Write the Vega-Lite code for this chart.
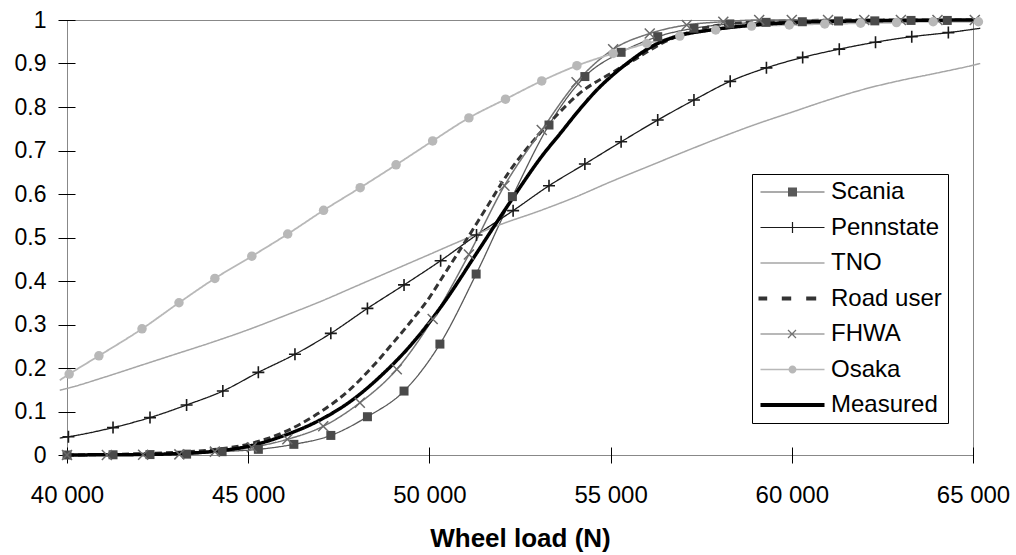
{
  "$schema": "https://vega.github.io/schema/vega-lite/v6.json",
  "width": 906,
  "height": 435,
  "autosize": {"type": "none"},
  "padding": {"left": 67, "top": 20, "right": 43, "bottom": 100},
  "background": "#ffffff",
  "config": {"view": {"stroke": "#888888", "strokeWidth": 1}, "font": "Liberation Sans"},
  "data": {"values": [
    {"s":"Scania","x":40000,"y":0},{"s":"Scania","x":41270,"y":0.0005},{"s":"Scania","x":42290,"y":0.001},{"s":"Scania","x":43300,"y":0.002},{"s":"Scania","x":44280,"y":0.0077},{"s":"Scania","x":45280,"y":0.013},{"s":"Scania","x":46260,"y":0.0245},{"s":"Scania","x":47280,"y":0.045},{"s":"Scania","x":48290,"y":0.088},{"s":"Scania","x":49300,"y":0.147},{"s":"Scania","x":50290,"y":0.255},{"s":"Scania","x":51290,"y":0.416},{"s":"Scania","x":52290,"y":0.594},{"s":"Scania","x":53300,"y":0.7586},{"s":"Scania","x":54290,"y":0.87},{"s":"Scania","x":55290,"y":0.9257},{"s":"Scania","x":56300,"y":0.9617},{"s":"Scania","x":57300,"y":0.981},{"s":"Scania","x":58290,"y":0.991},{"s":"Scania","x":59290,"y":0.9946},{"s":"Scania","x":60290,"y":0.996},{"s":"Scania","x":61290,"y":0.9977},{"s":"Scania","x":62290,"y":0.998},{"s":"Scania","x":63290,"y":0.999},{"s":"Scania","x":64290,"y":0.999},{"s":"Scania","x":65200,"y":0.9995},
    {"s":"Pennstate","x":39800,"y":0.039},{"s":"Pennstate","x":40040,"y":0.042},{"s":"Pennstate","x":41270,"y":0.063},{"s":"Pennstate","x":42290,"y":0.086},{"s":"Pennstate","x":43300,"y":0.115},{"s":"Pennstate","x":44300,"y":0.147},{"s":"Pennstate","x":45280,"y":0.19},{"s":"Pennstate","x":46290,"y":0.2315},{"s":"Pennstate","x":47280,"y":0.2797},{"s":"Pennstate","x":48290,"y":0.337},{"s":"Pennstate","x":49300,"y":0.391},{"s":"Pennstate","x":50310,"y":0.4467},{"s":"Pennstate","x":51300,"y":0.5057},{"s":"Pennstate","x":52310,"y":0.5617},{"s":"Pennstate","x":53300,"y":0.619},{"s":"Pennstate","x":54290,"y":0.669},{"s":"Pennstate","x":55290,"y":0.72},{"s":"Pennstate","x":56300,"y":0.77},{"s":"Pennstate","x":57300,"y":0.816},{"s":"Pennstate","x":58300,"y":0.859},{"s":"Pennstate","x":59300,"y":0.89},{"s":"Pennstate","x":60300,"y":0.914},{"s":"Pennstate","x":61310,"y":0.933},{"s":"Pennstate","x":62310,"y":0.949},{"s":"Pennstate","x":63310,"y":0.9617},{"s":"Pennstate","x":64320,"y":0.971},{"s":"Pennstate","x":65200,"y":0.981},
    {"s":"TNO","x":39800,"y":0.149},{"s":"TNO","x":40000,"y":0.153},{"s":"TNO","x":41000,"y":0.178},{"s":"TNO","x":42000,"y":0.205},{"s":"TNO","x":43000,"y":0.232},{"s":"TNO","x":44000,"y":0.259},{"s":"TNO","x":45000,"y":0.288},{"s":"TNO","x":46000,"y":0.32},{"s":"TNO","x":47000,"y":0.353},{"s":"TNO","x":48000,"y":0.389},{"s":"TNO","x":49000,"y":0.425},{"s":"TNO","x":50000,"y":0.461},{"s":"TNO","x":51000,"y":0.497},{"s":"TNO","x":52000,"y":0.531},{"s":"TNO","x":53000,"y":0.56},{"s":"TNO","x":54000,"y":0.592},{"s":"TNO","x":55000,"y":0.628},{"s":"TNO","x":56000,"y":0.662},{"s":"TNO","x":57000,"y":0.696},{"s":"TNO","x":58000,"y":0.729},{"s":"TNO","x":59000,"y":0.76},{"s":"TNO","x":60000,"y":0.788},{"s":"TNO","x":61000,"y":0.816},{"s":"TNO","x":62000,"y":0.841},{"s":"TNO","x":63000,"y":0.861},{"s":"TNO","x":64000,"y":0.878},{"s":"TNO","x":65000,"y":0.896},{"s":"TNO","x":65200,"y":0.9},
    {"s":"Road user","x":40000,"y":0},{"s":"Road user","x":41000,"y":0.001},{"s":"Road user","x":42000,"y":0.003},{"s":"Road user","x":43000,"y":0.006},{"s":"Road user","x":44000,"y":0.012},{"s":"Road user","x":45000,"y":0.025},{"s":"Road user","x":46000,"y":0.053},{"s":"Road user","x":46900,"y":0.094},{"s":"Road user","x":47800,"y":0.15},{"s":"Road user","x":48450,"y":0.205},{"s":"Road user","x":49000,"y":0.258},{"s":"Road user","x":49500,"y":0.308},{"s":"Road user","x":50000,"y":0.362},{"s":"Road user","x":50400,"y":0.414},{"s":"Road user","x":51000,"y":0.492},{"s":"Road user","x":51600,"y":0.572},{"s":"Road user","x":52200,"y":0.651},{"s":"Road user","x":52950,"y":0.73},{"s":"Road user","x":53500,"y":0.78},{"s":"Road user","x":54150,"y":0.832},{"s":"Road user","x":55000,"y":0.877},{"s":"Road user","x":55600,"y":0.906},{"s":"Road user","x":56500,"y":0.95},{"s":"Road user","x":57500,"y":0.98},{"s":"Road user","x":58500,"y":0.993},{"s":"Road user","x":60000,"y":0.998},{"s":"Road user","x":62000,"y":1},{"s":"Road user","x":65200,"y":1},
    {"s":"FHWA","x":40000,"y":0},{"s":"FHWA","x":41100,"y":0},{"s":"FHWA","x":42100,"y":0.0005},{"s":"FHWA","x":43100,"y":0.0015},{"s":"FHWA","x":44080,"y":0.0077},{"s":"FHWA","x":45100,"y":0.0177},{"s":"FHWA","x":46080,"y":0.036},{"s":"FHWA","x":47070,"y":0.066},{"s":"FHWA","x":48080,"y":0.12},{"s":"FHWA","x":49100,"y":0.197},{"s":"FHWA","x":50090,"y":0.3126},{"s":"FHWA","x":51090,"y":0.461},{"s":"FHWA","x":52070,"y":0.619},{"s":"FHWA","x":53100,"y":0.747},{"s":"FHWA","x":54060,"y":0.857},{"s":"FHWA","x":55070,"y":0.9326},{"s":"FHWA","x":56080,"y":0.969},{"s":"FHWA","x":57100,"y":0.9885},{"s":"FHWA","x":58110,"y":0.996},{"s":"FHWA","x":59100,"y":1},{"s":"FHWA","x":60000,"y":1},{"s":"FHWA","x":61000,"y":1},{"s":"FHWA","x":62000,"y":1},{"s":"FHWA","x":63010,"y":1},{"s":"FHWA","x":64020,"y":1},{"s":"FHWA","x":65050,"y":1},
    {"s":"Osaka","x":39800,"y":0.172},{"s":"Osaka","x":40060,"y":0.186},{"s":"Osaka","x":40880,"y":0.228},{"s":"Osaka","x":42070,"y":0.29},{"s":"Osaka","x":43090,"y":0.35},{"s":"Osaka","x":44080,"y":0.406},{"s":"Osaka","x":45100,"y":0.457},{"s":"Osaka","x":46090,"y":0.508},{"s":"Osaka","x":47080,"y":0.5625},{"s":"Osaka","x":48090,"y":0.6145},{"s":"Osaka","x":49080,"y":0.667},{"s":"Osaka","x":50090,"y":0.722},{"s":"Osaka","x":51090,"y":0.775},{"s":"Osaka","x":52100,"y":0.818},{"s":"Osaka","x":53100,"y":0.86},{"s":"Osaka","x":54070,"y":0.895},{"s":"Osaka","x":55070,"y":0.923},{"s":"Osaka","x":56000,"y":0.946},{"s":"Osaka","x":56910,"y":0.963},{"s":"Osaka","x":57900,"y":0.977},{"s":"Osaka","x":58890,"y":0.986},{"s":"Osaka","x":59930,"y":0.9885},{"s":"Osaka","x":60910,"y":0.991},{"s":"Osaka","x":61900,"y":0.9925},{"s":"Osaka","x":62890,"y":0.994},{"s":"Osaka","x":63900,"y":0.996},{"s":"Osaka","x":65150,"y":0.996},
    {"s":"Measured","x":40000,"y":0},{"s":"Measured","x":41000,"y":0.0005},{"s":"Measured","x":42000,"y":0.001},{"s":"Measured","x":43000,"y":0.003},{"s":"Measured","x":44000,"y":0.008},{"s":"Measured","x":45000,"y":0.02},{"s":"Measured","x":46000,"y":0.045},{"s":"Measured","x":46900,"y":0.077},{"s":"Measured","x":47800,"y":0.122},{"s":"Measured","x":48700,"y":0.185},{"s":"Measured","x":49460,"y":0.25},{"s":"Measured","x":50400,"y":0.35},{"s":"Measured","x":51300,"y":0.4636},{"s":"Measured","x":52200,"y":0.578},{"s":"Measured","x":53150,"y":0.692},{"s":"Measured","x":53600,"y":0.738},{"s":"Measured","x":54100,"y":0.79},{"s":"Measured","x":54550,"y":0.833},{"s":"Measured","x":55450,"y":0.9},{"s":"Measured","x":56200,"y":0.942},{"s":"Measured","x":56800,"y":0.962},{"s":"Measured","x":57750,"y":0.977},{"s":"Measured","x":58650,"y":0.986},{"s":"Measured","x":60000,"y":0.994},{"s":"Measured","x":62000,"y":0.998},{"s":"Measured","x":65200,"y":1}
  ]},
  "encoding": {
    "x": {"field": "x", "type": "quantitative", "title": "Wheel load (N)", "scale": {"domain": [40000, 65000], "nice": false, "zero": false},
      "axis": {"values": [40000, 45000, 50000, 55000, 60000, 65000], "labelExpr": "replace(format(datum.value, ','), ',', ' ')", "domain": false, "offset": -8, "tickSize": 16, "tickColor": "#000000", "labelPadding": 39, "labelBaseline": "alphabetic", "labelFont": "Liberation Sans", "labelFontSize": 24, "labelColor": "#000000", "labelFlush": false, "labelOverlap": false, "titleFont": "Liberation Sans", "titleFontSize": 26, "titleFontWeight": "bold", "titleColor": "#000000", "titleY": 99, "titleBaseline": "alphabetic", "grid": false}},
    "y": {"field": "y", "type": "quantitative", "title": null, "scale": {"domain": [0, 1], "nice": false},
      "axis": {"values": [0, 0.1, 0.2, 0.3, 0.4, 0.5, 0.6, 0.7, 0.8, 0.9, 1], "format": ".1~f", "domain": false, "offset": -8, "tickSize": 17, "tickColor": "#000000", "labelPadding": 12, "labelFont": "Liberation Sans", "labelFontSize": 23, "labelColor": "#000000", "labelFlush": false, "labelOverlap": false, "grid": false}}
  },
  "layer": [
    {
      "mark": {"type": "line", "interpolate": "monotone"},
      "encoding": {
        "stroke": {"field": "s", "type": "nominal", "legend": null,
          "scale": {"domain": ["Measured", "Osaka", "FHWA", "Road user", "TNO", "Pennstate", "Scania"], "range": ["#000000", "#b8b8b8", "#737373", "#333333", "#a6a6a6", "#1a1a1a", "#595959"]}},
        "strokeDash": {"field": "s", "type": "nominal", "legend": null,
          "scale": {"domain": ["Measured", "Osaka", "FHWA", "Road user", "TNO", "Pennstate", "Scania"], "range": [[1, 0], [1, 0], [1, 0], [7, 4], [1, 0], [1, 0], [1, 0]]}},
        "strokeWidth": {"field": "s", "type": "nominal", "legend": null,
          "scale": {"type": "ordinal", "domain": ["Measured", "Osaka", "FHWA", "Road user", "TNO", "Pennstate", "Scania"], "range": [3.5, 1.8, 1.5, 3, 1.5, 1.3, 1.3]}}
      }
    },
    {
      "transform": [{"filter": "datum.s == 'Scania' && datum.x >= 40000 && datum.x <= 65160"}],
      "mark": {"type": "point", "shape": "square", "filled": true, "color": "#4a4a4a", "size": 81, "opacity": 1}
    },
    {
      "transform": [{"filter": "datum.s == 'Pennstate' && datum.x >= 40000 && datum.x <= 65160"}],
      "mark": {"type": "point", "shape": "M-1,0H1M0,-1V1", "filled": false, "color": "#1a1a1a", "size": 144, "strokeWidth": 1.6, "opacity": 1}
    },
    {
      "transform": [{"filter": "datum.s == 'FHWA' && datum.x >= 40000 && datum.x <= 65160"}],
      "mark": {"type": "point", "shape": "M-1,-1L1,1M-1,1L1,-1", "filled": false, "color": "#6b6b6b", "size": 100, "strokeWidth": 1.5, "opacity": 1}
    },
    {
      "transform": [{"filter": "datum.s == 'Osaka' && datum.x >= 40000 && datum.x <= 65160"}],
      "mark": {"type": "point", "shape": "circle", "filled": true, "color": "#b8b8b8", "size": 90, "opacity": 1}
    },
    {
      "data": {"values": [{}]},
      "mark": {"type": "rule", "color": "#000000", "strokeWidth": 1},
      "encoding": {"x": {"datum": 40000, "type": "quantitative"}, "y": {"datum": 0, "type": "quantitative"}, "y2": {"datum": 1}}
    },
    {
      "data": {"values": [{}]},
      "mark": {"type": "rule", "color": "#000000", "strokeWidth": 1},
      "encoding": {"x": {"datum": 40000, "type": "quantitative"}, "x2": {"datum": 65000}, "y": {"datum": 0, "type": "quantitative"}}
    },
    {
      "transform": [{"filter": "datum.s == '_none_'"}],
      "mark": {"type": "point", "filled": true, "opacity": 1},
      "encoding": {
        "color": {"field": "s", "type": "nominal",
          "scale": {"domain": ["Scania", "Pennstate", "TNO", "Road user", "FHWA", "Osaka", "Measured"], "range": ["#595959", "#1a1a1a", "#a6a6a6", "#333333", "#737373", "#b8b8b8", "#000000"]},
          "legend": {"title": null, "orient": "none", "legendX": 685, "legendY": 154, "padding": 6, "strokeColor": "#000000", "fillColor": "#ffffff", "labelFont": "Liberation Sans", "labelFontSize": 24, "labelColor": "#000000", "labelOffset": 49, "rowPadding": 11.5, "symbolSize": 100, "symbolStrokeWidth": 0, "symbolOpacity": 1, "labelLimit": 300}},
        "shape": {"field": "s", "type": "nominal",
          "scale": {"domain": ["Scania", "Pennstate", "TNO", "Road user", "FHWA", "Osaka", "Measured"], "range": [
            "M-1.9,-0.12H10.9V0.12H-1.9ZM3.6,-0.9H5.4V0.9H3.6Z",
            "M-1.9,-0.12H10.9V0.12H-1.9ZM4.38,-1.1H4.62V1.1H4.38Z",
            "M-1.9,-0.15H10.9V0.15H-1.9Z",
            "M-2.3,-0.4H-0.56V0.4H-2.3ZM2.36,-0.4H4.24V0.4H2.36ZM7.24,-0.4H9.24V0.4H7.24Z",
            "M-1.9,-0.12H10.9V0.12H-1.9ZM3.685,-0.885L5.285,0.715L5.115,0.885L3.515,-0.715ZM3.515,0.715L5.115,-0.885L5.285,-0.715L3.685,0.885Z",
            "M-1.9,-0.15H10.9V0.15H-1.9ZM3.7,0A0.8,0.8 0 0,1 5.3,0A0.8,0.8 0 0,1 3.7,0Z",
            "M-1.9,-0.4H10.9V0.4H-1.9Z"
          ]},
          "legend": {"title": null, "orient": "none", "legendX": 685, "legendY": 154, "padding": 6, "strokeColor": "#000000", "fillColor": "#ffffff", "labelFont": "Liberation Sans", "labelFontSize": 24, "labelColor": "#000000", "labelOffset": 49, "rowPadding": 11.5, "symbolSize": 100, "symbolStrokeWidth": 0, "symbolOpacity": 1, "labelLimit": 300}}
      }
    }
  ]
}
